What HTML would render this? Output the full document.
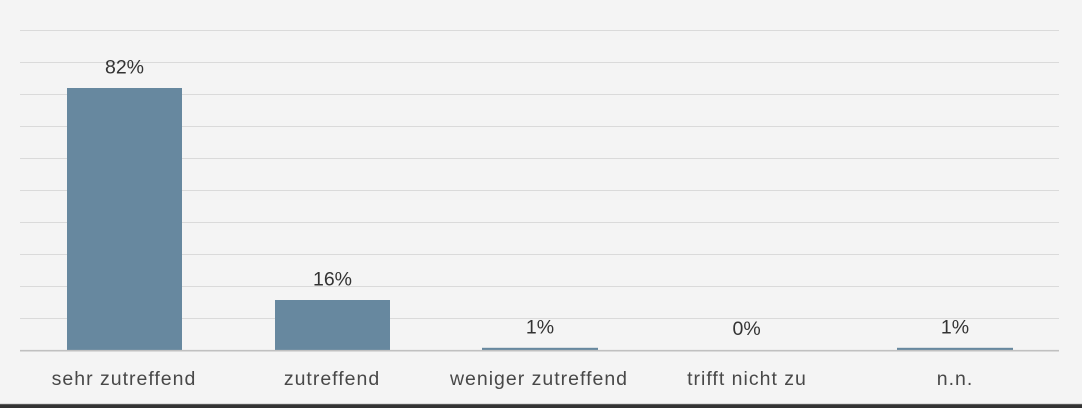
<!DOCTYPE html>
<html>
<head>
<meta charset="utf-8">
<style>
  html, body { margin:0; padding:0; background:#f4f4f4; }
  body { width:1082px; height:408px; overflow:hidden; }
  svg { display:block; }
  .val { font-family:"Liberation Sans", sans-serif; font-size:19.5px; fill:#333333; }
  .cat { font-family:"Liberation Sans", sans-serif; font-size:19.5px; fill:#484848; letter-spacing:1px; }
</style>
</head>
<body>
<svg width="1082" height="408" viewBox="0 0 1082 408" xmlns="http://www.w3.org/2000/svg">
  <rect x="0" y="0" width="1082" height="408" fill="#f4f4f4"/>
  <g stroke="#dadada" stroke-width="1">
    <line x1="20" y1="30.5" x2="1059" y2="30.5"/>
    <line x1="20" y1="62.5" x2="1059" y2="62.5"/>
    <line x1="20" y1="94.5" x2="1059" y2="94.5"/>
    <line x1="20" y1="126.5" x2="1059" y2="126.5"/>
    <line x1="20" y1="158.5" x2="1059" y2="158.5"/>
    <line x1="20" y1="190.5" x2="1059" y2="190.5"/>
    <line x1="20" y1="222.5" x2="1059" y2="222.5"/>
    <line x1="20" y1="254.5" x2="1059" y2="254.5"/>
    <line x1="20" y1="286.5" x2="1059" y2="286.5"/>
    <line x1="20" y1="318.5" x2="1059" y2="318.5"/>
  </g>
  <g fill="#67889f">
    <rect x="67" y="88" width="115" height="262"/>
    <rect x="275" y="300" width="115" height="50"/>
    <rect x="482" y="347.8" width="116" height="2.2"/>
    <rect x="897" y="347.8" width="116" height="2.2"/>
  </g>
  <line x1="20" y1="350.7" x2="1059" y2="350.7" stroke="#c0c0c0" stroke-width="1.6"/>
  <g class="val" text-anchor="middle">
    <text x="124.5" y="73.5">82%</text>
    <text x="332.5" y="285.3">16%</text>
    <text x="540" y="333.3">1%</text>
    <text x="746.6" y="335">0%</text>
    <text x="955" y="333.3">1%</text>
  </g>
  <g class="cat" text-anchor="middle">
    <text x="124" y="385">sehr zutreffend</text>
    <text x="332" y="385">zutreffend</text>
    <text x="539" y="385">weniger zutreffend</text>
    <text x="747" y="385">trifft nicht zu</text>
    <text x="955" y="385">n.n.</text>
  </g>
  <rect x="0" y="403" width="1082" height="1.2" fill="#dedede"/>
  <rect x="0" y="404.2" width="1082" height="3.8" fill="#333333"/>
</svg>
</body>
</html>
